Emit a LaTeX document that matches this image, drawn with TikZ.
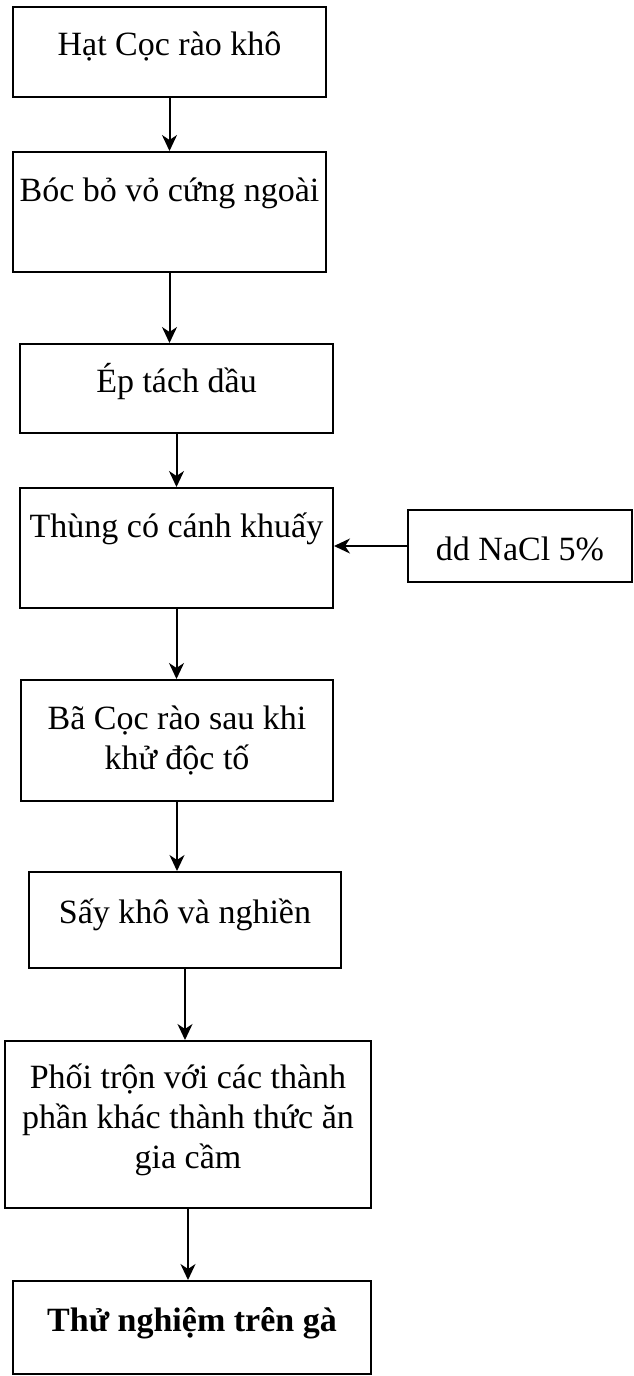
\documentclass[tikz,border=0pt]{standalone}
\usepackage{fontspec}
\setmainfont{Liberation Serif}
\usetikzlibrary{arrows.meta}

\begin{document}
\begin{tikzpicture}[x=1pt, y=-1pt, box/.style={draw, line width=2pt, inner sep=0pt, align=flush center, font=\fontsize{34}{40}\selectfont, text height=27pt, text depth=20pt}, hightext/.style={text height=20pt, text depth=42pt}, flow/.style={-{Stealth[length=16pt, width=15pt, inset=5pt]}, line width=2pt}]
\useasboundingbox (0,0) rectangle (633,1376);
\node[box, text width=313pt, minimum height=90pt] (1) at (169.5,52) {Hạt Cọc rào khô};
\node[box, hightext, text width=313pt, minimum height=120pt] (2) at (169.5,212) {Bóc bỏ vỏ cứng ngoài};
\node[box, text width=313pt, minimum height=89pt] (3) at (176.5,388.5) {Ép tách dầu};
\node[box, hightext, text width=313pt, minimum height=120pt] (4) at (176.5,548) {Thùng có cánh khuấy};
\node[box, text height=34pt, text depth=6pt, text width=224pt, minimum height=72pt] (9) at (520,546) {dd NaCl 5\%};
\node[box, hightext, text width=312pt, minimum height=121pt] (5) at (177,740.5) {Bã Cọc rào sau khi\\ khử độc tố};
\node[box, text width=312pt, minimum height=96pt] (6) at (185,920) {Sấy khô và nghiền};
\node[box, text height=20pt, text depth=93pt, text width=366pt, minimum height=167pt] (7) at (188,1124.5) {Phối trộn với các thành\\ phần khác thành thức ăn\\ gia cầm};
\node[box, text width=358pt, minimum height=93pt] (8) at (192,1327.5) {\textbf{Thử nghiệm trên gà}};
\path[flow]
(1) edge (1 |- 2.north)
(2) edge (2 |- 3.north)
(3) edge (3 |- 4.north)
(4) edge (4 |- 5.north)
(5) edge (5 |- 6.north)
(6) edge (6 |- 7.north)
(7) edge (7 |- 8.north)
(9) edge (9 -| 4.east);
\end{tikzpicture}
\end{document}
